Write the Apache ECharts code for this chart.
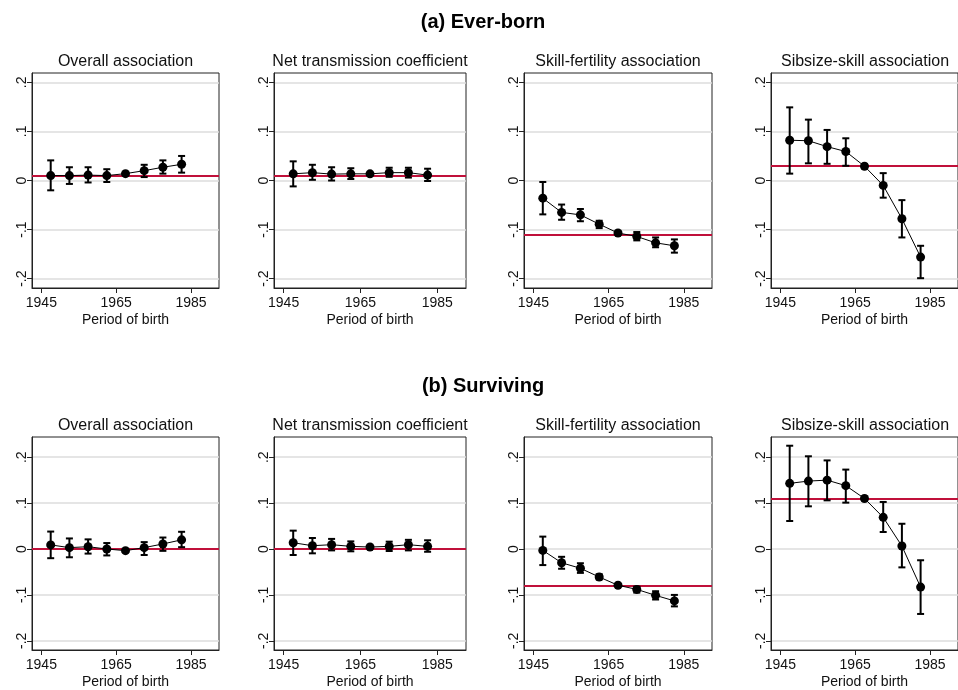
<!DOCTYPE html>
<html>
<head>
<meta charset="utf-8">
<script src="https://cdn.jsdelivr.net/npm/echarts@6/dist/echarts.min.js"></script>
<style>
html,body{margin:0;padding:0;background:#fff;}
#chart{width:958px;height:690px;}
</style>
</head>
<body>
<div id="chart"></div>
<script>
// ---------- data ----------
const years = [1947.5, 1952.5, 1957.5, 1962.5, 1967.5, 1972.5, 1977.5, 1982.5];
const xTickValues = [1945, 1965, 1985];
const yTickValues = [-0.2, -0.1, 0, 0.1, 0.2];
const yTickLabels = ['-.2', '-.1', '0', '.1', '.2'];
const rowTitles = ['(a) Ever-born', '(b) Surviving'];
const panelTitles = ['Overall association', 'Net transmission coefficient', 'Skill-fertility association', 'Sibsize-skill association'];
const xAxisTitle = 'Period of birth';

// (a) Ever-born
const evOverallEst = [0.010, 0.010, 0.011, 0.010, 0.014, 0.020, 0.027, 0.033];
const evOverallLo  = [-0.020, -0.007, -0.004, -0.003, 0.012, 0.007, 0.014, 0.016];
const evOverallHi  = [0.041, 0.027, 0.027, 0.023, 0.016, 0.032, 0.041, 0.050];
const evOverallRef = 0.0136;

const evNetEst = [0.0136, 0.016, 0.013, 0.0136, 0.0136, 0.016, 0.016, 0.011];
const evNetLo  = [-0.012, 0.0014, 0.000, 0.003, 0.0116, 0.0075, 0.006, -0.001];
const evNetHi  = [0.039, 0.032, 0.027, 0.025, 0.0156, 0.026, 0.026, 0.024];
const evNetRef = 0.0136;

const evSkillFertEst = [-0.036, -0.065, -0.070, -0.089, -0.107, -0.114, -0.127, -0.133];
const evSkillFertLo  = [-0.069, -0.080, -0.083, -0.097, -0.110, -0.122, -0.136, -0.147];
const evSkillFertHi  = [-0.003, -0.049, -0.058, -0.082, -0.104, -0.105, -0.116, -0.120];
const evSkillFertRef = -0.1075;

const evSibsizeEst = [0.082, 0.081, 0.069, 0.059, 0.029, -0.010, -0.078, -0.156];
const evSibsizeLo  = [0.014, 0.035, 0.034, 0.030, 0.025, -0.035, -0.116, -0.199];
const evSibsizeHi  = [0.149, 0.124, 0.103, 0.086, 0.033, 0.015, -0.040, -0.133];
const evSibsizeRef = 0.028;

// (b) Surviving
const svOverallEst = [0.009, 0.003, 0.005, 0.000, -0.0036, 0.003, 0.011, 0.020];
const svOverallLo  = [-0.020, -0.018, -0.010, -0.014, -0.0056, -0.013, -0.004, 0.004];
const svOverallHi  = [0.038, 0.023, 0.021, 0.013, -0.0016, 0.015, 0.025, 0.0375];
const svOverallRef = -0.003;

const svNetEst = [0.0137, 0.0072, 0.0094, 0.0058, 0.0043, 0.0058, 0.0094, 0.0058];
const svNetLo  = [-0.013, -0.0094, -0.003, -0.005, 0.0023, -0.0043, -0.003, -0.006];
const svNetHi  = [0.040, 0.024, 0.022, 0.0166, 0.0063, 0.016, 0.020, 0.019];
const svNetRef = 0.0036;

const svSkillFertEst = [-0.003, -0.030, -0.042, -0.061, -0.079, -0.088, -0.101, -0.113];
const svSkillFertLo  = [-0.035, -0.043, -0.052, -0.066, -0.081, -0.095, -0.110, -0.125];
const svSkillFertHi  = [0.027, -0.017, -0.031, -0.055, -0.077, -0.082, -0.092, -0.100];
const svSkillFertRef = -0.079;

const svSibsizeEst = [0.143, 0.148, 0.150, 0.138, 0.110, 0.069, 0.0065, -0.083];
const svSibsizeLo  = [0.061, 0.093, 0.106, 0.101, 0.106, 0.037, -0.040, -0.1415];
const svSibsizeHi  = [0.225, 0.202, 0.193, 0.173, 0.114, 0.1025, 0.055, -0.0245];
const svSibsizeRef = 0.111;

const panels = [
  [evOverallEst, evOverallLo, evOverallHi, evOverallRef],
  [evNetEst, evNetLo, evNetHi, evNetRef],
  [evSkillFertEst, evSkillFertLo, evSkillFertHi, evSkillFertRef],
  [evSibsizeEst, evSibsizeLo, evSibsizeHi, evSibsizeRef],
  [svOverallEst, svOverallLo, svOverallHi, svOverallRef],
  [svNetEst, svNetLo, svNetHi, svNetRef],
  [svSkillFertEst, svSkillFertLo, svSkillFertHi, svSkillFertRef],
  [svSibsizeEst, svSibsizeLo, svSibsizeHi, svSibsizeRef]
];

// ---------- layout ----------
const FONT = "'Liberation Sans', Arial, Helvetica, sans-serif";
const rowTop = [73, 437];
const rowHeight = [215, 214];
const rowYMin = [-0.219, -0.22];
const rowYMax = [0.219, 0.244];
const colLeft = [32, 274, 524, 771];
const colWidth = [187, 192, 188, 188];
const xMin = 1942.5, xMax = 1992.5;
const frameColor = '#222';
const refColor = '#c0103a';

const grids = [], xAxes = [], yAxes = [], series = [], graphics = [];

rowTitles.forEach((t, r) => {
  graphics.push({
    type: 'text', x: 483, y: r === 0 ? 22 : 386,
    style: { text: t, fontFamily: FONT, fontSize: 20, fontWeight: 'bold', fill: '#000', align: 'center', verticalAlign: 'middle' }
  });
});

function yLabel(v) {
  for (let i = 0; i < yTickValues.length; i++) {
    if (Math.abs(v - yTickValues[i]) < 1e-9) return yTickLabels[i];
  }
  return '';
}

for (let r = 0; r < 2; r++) {
  for (let c = 0; c < 4; c++) {
    const idx = r * 4 + c;
    grids.push({
      left: colLeft[c], top: rowTop[r], width: colWidth[c], height: rowHeight[r],
      show: true, borderColor: frameColor, borderWidth: 1, backgroundColor: '#fff'
    });
    graphics.push({
      type: 'text', x: colLeft[c] + colWidth[c] / 2, y: rowTop[r] - 11.5,
      style: { text: panelTitles[c], fontFamily: FONT, fontSize: 16, fill: '#111', align: 'center', verticalAlign: 'middle' }
    });
    xAxes.push({
      type: 'value', gridIndex: idx, min: xMin, max: xMax, position: 'bottom',
      name: xAxisTitle, nameLocation: 'middle', nameGap: 25,
      nameTextStyle: { fontFamily: FONT, fontSize: 14, color: '#111' },
      axisLine: { show: true, onZero: false, lineStyle: { color: frameColor, width: 1 } },
      axisTick: { show: true, length: 5, inside: false, customValues: xTickValues, lineStyle: { color: frameColor } },
      axisLabel: { show: true, customValues: xTickValues, margin: 8, fontFamily: FONT, fontSize: 14, color: '#111',
                   formatter: v => String(v) },
      splitLine: { show: false }
    });
    yAxes.push({
      type: 'value', gridIndex: idx, min: rowYMin[r], max: rowYMax[r], position: 'left',
      axisLine: { show: true, onZero: false, lineStyle: { color: frameColor, width: 1 } },
      axisTick: { show: true, length: 5, inside: false, customValues: yTickValues, lineStyle: { color: frameColor } },
      axisLabel: { show: true, customValues: yTickValues, rotate: 90, margin: 3, fontFamily: FONT, fontSize: 14, color: '#111',
                   formatter: yLabel },
      splitLine: { show: true, lineStyle: { color: '#dcdcdc', width: 1.5 } }
    });
    const [est, lo, hi, ref] = panels[idx];
    series.push({
      type: 'custom', xAxisIndex: idx, yAxisIndex: idx, z: 2, silent: true,
      data: years.map((y, i) => [y, lo[i], hi[i]]),
      renderItem: (params, api) => {
        const x = api.value(0);
        const pLo = api.coord([x, api.value(1)]);
        const pHi = api.coord([x, api.value(2)]);
        const hw = 3.5;
        const st = { stroke: '#000', lineWidth: 2 };
        return {
          type: 'group', children: [
            { type: 'line', shape: { x1: pLo[0], y1: pLo[1], x2: pHi[0], y2: pHi[1] }, style: st },
            { type: 'line', shape: { x1: pLo[0] - hw, y1: pLo[1], x2: pLo[0] + hw, y2: pLo[1] }, style: st },
            { type: 'line', shape: { x1: pHi[0] - hw, y1: pHi[1], x2: pHi[0] + hw, y2: pHi[1] }, style: st }
          ]
        };
      },
      markLine: {
        silent: true, symbol: 'none', z: 1, animation: false,
        label: { show: false },
        lineStyle: { color: refColor, width: 2, type: 'solid' },
        data: [{ yAxis: ref }]
      }
    });
    series.push({
      type: 'line', xAxisIndex: idx, yAxisIndex: idx, z: 10, silent: true,
      data: years.map((y, i) => [y, est[i]]),
      symbol: 'circle', symbolSize: 9, showSymbol: true,
      itemStyle: { color: '#000' },
      lineStyle: { color: '#000', width: 1 }
    });
  }
}

const chart = echarts.init(document.getElementById('chart'), null, { renderer: 'canvas' });
chart.setOption({
  backgroundColor: '#fff',
  animation: false,
  grid: grids,
  xAxis: xAxes,
  yAxis: yAxes,
  series: series,
  graphic: graphics
});
</script>
</body>
</html>
